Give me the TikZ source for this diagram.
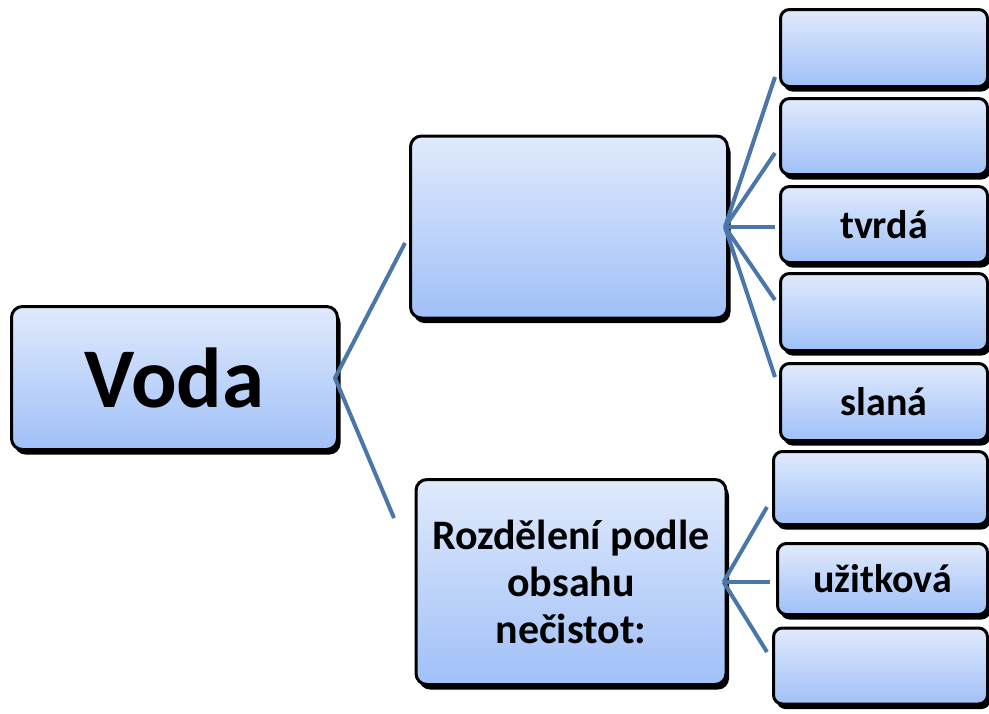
\documentclass[tikz,border=0pt]{standalone}
\usepackage{fontspec}
\setmainfont{Carlito}
\usepackage{tikz}
\usetikzlibrary{shadows}
\definecolor{boxtop}{RGB}{224,234,252}
\definecolor{boxbottom}{RGB}{160,192,248}
\definecolor{linkblue}{RGB}{74,118,170}
\tikzset{
    rounded-box/.style = {draw=black, line width=3pt, rectangle, rounded corners=11pt, top color=boxtop, bottom color=boxbottom, inner sep=0pt, align=center, text=black, font=\bfseries\fontsize{42}{47}\selectfont, drop shadow={shadow xshift=3pt, shadow yshift=-5pt, opacity=1, fill=black}},
    root-box/.style = {rounded-box, minimum width=326pt, minimum height=143pt, font=\bfseries\fontsize{85}{90}\selectfont},
    leaf-box/.style = {rounded-box, rounded corners=9pt, minimum width=207pt, font=\bfseries\fontsize{40}{47}\selectfont},
    link-line/.style = {draw=linkblue, line width=4pt},
}
\begin{document}
\begin{tikzpicture}[x=1pt, y=-1pt]
\useasboundingbox (0,0) rectangle (989,713);
% boxes
\node [root-box] (voda) at (174.5,378) {Voda};
\node [rounded-box, minimum width=317pt, minimum height=182pt] (kind) at (569,227) {};
\node [rounded-box, minimum width=310pt, minimum height=205pt] (dirt) at (571,582) {Rozdělení podle\\obsahu\\nečistot:};
\node [leaf-box, minimum height=77pt] (kind-a) at (884,48) {};
\node [leaf-box, minimum height=76pt] (kind-b) at (884,136.5) {};
\node [leaf-box, minimum height=76pt] (kind-c) at (884,224.5) {tvrdá};
\node [leaf-box, minimum height=77pt] (kind-d) at (884,312) {};
\node [leaf-box, minimum height=77pt] (kind-e) at (884,402) {slaná};
\node [leaf-box, minimum height=73pt, minimum width=214pt] (dirt-a) at (880.5,488) {};
\node [leaf-box, minimum height=71pt, minimum width=210pt] (dirt-b) at (882.5,579) {užitková};
\node [leaf-box, minimum height=76pt, minimum width=214pt] (dirt-c) at (880.5,666) {};
% free ends of the links
\coordinate (to-kind) at (405,243);
\coordinate (to-dirt) at (394,518);
\foreach \name/\y in {a/77, b/153, c/227, d/300, e/377}
    \coordinate (to-kind-\name) at (775,\y);
\coordinate (to-dirt-a) at (767,507);
\coordinate (to-dirt-b) at (770,582);
\coordinate (to-dirt-c) at (767,652);
% links
\draw [link-line] (to-kind) -- ([xshift=-4pt]voda.east) -- (to-dirt);
\foreach \name in {a, b, c, d, e}
    \draw [link-line] ([xshift=-4pt]kind.east) -- (to-kind-\name);
\foreach \name in {a, b, c}
    \draw [link-line] ([xshift=-4pt]dirt.east) -- (to-dirt-\name);
\end{tikzpicture}
\end{document}
